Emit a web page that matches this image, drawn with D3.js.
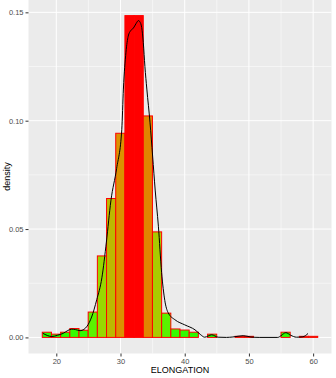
<!DOCTYPE html>
<html>
<head>
<meta charset="utf-8">
<script src="https://cdn.jsdelivr.net/npm/d3@7"></script>
<style>
	body{ margin:0; background:#fff; }
	text{ font-family:"Liberation Sans", Arial, sans-serif; }
</style>
</head>
<body>
<div id="chart"></div>
<script>
/* histogram: bin middles (ELONGATION) and density height */
var binMids = [18.53, 19.96, 21.39, 22.82, 24.25, 25.68, 27.11, 28.54, 29.97, 31.40,
	32.83, 34.26, 35.69, 37.12, 38.55, 39.98, 41.41, 42.84, 44.27, 45.70,
	47.13, 48.56, 49.99, 51.42, 52.85, 54.28, 55.71, 57.14, 58.57, 60.00];
var binWidth = 1.429;
var binDensity = [0.0024, 0.0015, 0.0024, 0.0041, 0.0033, 0.0117, 0.0376, 0.0641, 0.0942, 0.1485,
	0.1485, 0.1022, 0.0487, 0.0112, 0.0039, 0.0034, 0.0024, 0, 0.0015, 0,
	0, 0.0005, 0.0005, 0, 0, 0, 0.0024, 0, 0.0005, 0.0005];
/* kernel density curve */
var kdeX = [17.9, 18.6, 19.3, 20.2, 21.1, 21.8, 22.4, 23.0, 23.7, 24.3, 24.8, 25.5, 26.3, 27.1, 27.8,
	28.5, 29.4, 30.2, 30.45, 30.85, 31.2, 31.6, 32.0, 32.4, 32.8, 33.0, 33.3, 33.55, 33.8, 34.1,
	34.6, 35.0, 35.4, 35.9, 36.4, 36.9, 37.4, 38.5, 40.0, 41.6, 42.5, 43.1, 44.2, 45.2, 46.5,
	47.5, 49.1, 50.3, 51.6, 54.5, 55.0, 55.75, 56.5, 57.4, 58.4, 59.2];
var kdeY = [0.0019, 0.0009, 0.0004, 0.0010, 0.0019, 0.0032, 0.0038, 0.0036, 0.0031, 0.0037, 0.0052, 0.0094, 0.0174, 0.0275, 0.0440,
	0.0630, 0.0780, 0.0960, 0.1146, 0.1316, 0.1390, 0.1416, 0.1427, 0.1447, 0.1462, 0.1457, 0.1430, 0.1360, 0.1250, 0.1146,
	0.0990, 0.0837, 0.0680, 0.0513, 0.0300, 0.0170, 0.0115, 0.0081, 0.0058, 0.0035, 0.0012, 0.0001, 0.0012, 0.0001, 0.0000,
	0.0002, 0.0008, 0.0002, 0.0000, 0.0000, 0.0008, 0.0022, 0.0010, 0.0001, 0.0003, 0.0018];
var xTicks = [20, 30, 40, 50, 60];
var yTicks = [0, 0.05, 0.10, 0.15];

var w = 336, h = 378;
var pLeft = 28.5, pRight = 331.5, pTop = -0.5, pBottom = 353.5;

var svg = d3.select("#chart").append("svg").attr("width", w).attr("height", h);

/* ggplot like 5% expansion */
var xlo = binMids[0] - binWidth / 2, xhi = binMids[binMids.length - 1] + binWidth / 2;
var xpad = (xhi - xlo) * 0.05;
var x = d3.scaleLinear().domain([xlo - xpad, xhi + xpad]).range([pLeft, pRight]);
var ymax = d3.max(binDensity);
var y = d3.scaleLinear().domain([-ymax * 0.05, ymax * 1.05]).range([pBottom, pTop]);

svg.append("rect").attr("x", pLeft).attr("y", pTop).attr("width", pRight - pLeft).attr("height", pBottom - pTop)
	.attr("fill", "#ebebeb");

/* grid */
var xMinor = [25, 35, 45, 55], yMinor = [0.025, 0.075, 0.125];
var grid = svg.append("g");
grid.selectAll(".xm").data(xMinor).enter().append("line")
	.attr("x1", function(d){ return x(d); }).attr("x2", function(d){ return x(d); })
	.attr("y1", pTop).attr("y2", pBottom).attr("stroke", "#fff").attr("stroke-width", 0.5);
grid.selectAll(".ym").data(yMinor).enter().append("line")
	.attr("y1", function(d){ return y(d); }).attr("y2", function(d){ return y(d); })
	.attr("x1", pLeft).attr("x2", pRight).attr("stroke", "#fff").attr("stroke-width", 0.5);
grid.selectAll(".xM").data(xTicks).enter().append("line")
	.attr("x1", function(d){ return x(d); }).attr("x2", function(d){ return x(d); })
	.attr("y1", pTop).attr("y2", pBottom).attr("stroke", "#fff").attr("stroke-width", 1);
grid.selectAll(".yM").data(yTicks).enter().append("line")
	.attr("y1", function(d){ return y(d); }).attr("y2", function(d){ return y(d); })
	.attr("x1", pLeft).attr("x2", pRight).attr("stroke", "#fff").attr("stroke-width", 1);

/* bars, fill green -> red by height (Lab like ggplot) */
var fillCol = d3.scaleLinear().domain([0, ymax]).range(["#00ff00", "#ff0000"]).interpolate(d3.interpolateLab);
svg.append("g").selectAll("rect").data(binMids).enter().append("rect")
	.attr("x", function(d){ return x(d - binWidth / 2); })
	.attr("width", function(d){ return x(d + binWidth / 2) - x(d - binWidth / 2); })
	.attr("y", function(d, i){ return y(binDensity[i]); })
	.attr("height", function(d, i){ return y(0) - y(binDensity[i]); })
	.attr("fill", function(d, i){ return fillCol(binDensity[i]); })
	.attr("stroke", "#ff0000").attr("stroke-width", 1);

/* density line */
var kde = kdeX.map(function(d, i){ return [d, kdeY[i]]; });
var line = d3.line().curve(d3.curveMonotoneX)
	.x(function(d){ return x(d[0]); }).y(function(d){ return y(d[1]); });
svg.append("path").attr("d", line(kde)).attr("fill", "none")
	.attr("stroke", "#000").attr("stroke-width", 1);

/* axes */
var xa = svg.append("g").attr("transform", "translate(0," + pBottom + ")")
	.call(d3.axisBottom(x).tickValues(xTicks).tickSize(3).tickSizeOuter(0).tickPadding(2));
var ya = svg.append("g").attr("transform", "translate(" + pLeft + ",0)")
	.call(d3.axisLeft(y).tickValues(yTicks).tickSize(3).tickSizeOuter(0).tickPadding(2).tickFormat(d3.format(".2f")));
[xa, ya].forEach(function(a){
	a.select(".domain").remove();
	a.selectAll(".tick line").attr("stroke", "#333").attr("stroke-width", 1);
	a.selectAll(".tick text").attr("fill", "#4d4d4d").style("font-size", "7.5px")
		.style("font-family", "'Liberation Sans', Arial, sans-serif");
});

svg.append("text").attr("x", (pLeft + pRight) / 2).attr("y", 373).attr("text-anchor", "middle")
	.style("font-size", "9px").attr("fill", "#000").text("ELONGATION");
svg.append("text").attr("transform", "translate(10," + ((pTop + pBottom) / 2) + ") rotate(-90)")
	.attr("text-anchor", "middle").style("font-size", "9px").attr("fill", "#000").text("density");
</script>
</body>
</html>
